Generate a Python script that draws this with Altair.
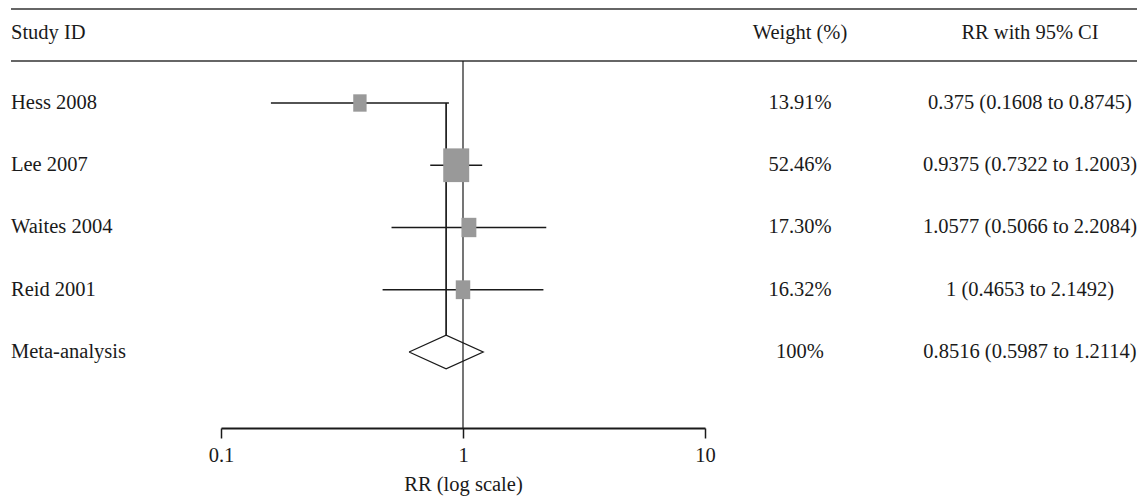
import altair as alt
import pandas as pd

# ---- data ----
studies = ["Hess 2008", "Lee 2007", "Waites 2004", "Reid 2001"]
rr = [0.375, 0.9375, 1.0577, 1.0]
lo = [0.1608, 0.7322, 0.5066, 0.4653]
hi = [0.8745, 1.2003, 2.2084, 2.1492]
weights = [13.91, 52.46, 17.30, 16.32]
weight_labels = ["13.91%", "52.46%", "17.30%", "16.32%"]
ci_labels = ["0.375 (0.1608 to 0.8745)", "0.9375 (0.7322 to 1.2003)",
             "1.0577 (0.5066 to 2.2084)", "1 (0.4653 to 2.1492)"]

meta_label = "Meta-analysis"
meta_rr = 0.8516
meta_lo = 0.5987
meta_hi = 1.2114
meta_weight_label = "100%"
meta_ci_label = "0.8516 (0.5987 to 1.2114)"

headers = ["Study ID", "Weight (%)", "RR with 95% CI"]
x_ticks = [0.1, 1, 10]

# ---- tables ----
rows = list(range(1, len(studies) + 1))
meta_row = len(studies) + 1
df = pd.DataFrame({"study": studies, "rr": rr, "lo": lo, "hi": hi,
                   "weight": weights, "row": rows})
labels_df = pd.DataFrame({
    "study": studies + [meta_label],
    "wlab": weight_labels + [meta_weight_label],
    "cilab": ci_labels + [meta_ci_label],
    "row": rows + [meta_row],
})
half = 0.27
diamond = pd.DataFrame({
    "x": [meta_lo, meta_rr, meta_hi, meta_rr, meta_lo],
    "row": [meta_row, meta_row - half, meta_row, meta_row + half, meta_row],
    "order": [0, 1, 2, 3, 4],
})
meta_line = pd.DataFrame({"x": [meta_rr], "y1": [1], "y2": [meta_row - half]})

FONT = "Liberation Serif, Times New Roman, serif"
FS = 20.5
INK = "#1a1a1a"
X_STUDY, X_W, X_CI = 3, 792, 1022

xs = alt.Scale(type="log", domain=[0.1, 10], range=[213, 697])
ys = alt.Scale(domain=[-0.526, 6.221], reverse=True)

x_axis = alt.Axis(values=x_ticks, format="~g", title="RR (log scale)",
                  grid=False, domainWidth=2, domainColor=INK, tickColor=INK,
                  tickWidth=1.5, tickSize=10, labelPadding=7, labelFlush=False,
                  labelFont=FONT, labelFontSize=FS, labelColor=INK,
                  titleFont=FONT, titleFontSize=FS, titleFontWeight="normal",
                  titleColor=INK, titlePadding=9)

base = alt.Chart(df)

ci = base.mark_rule(color=INK, strokeWidth=1.5).encode(
    x=alt.X("lo:Q", scale=xs, axis=x_axis),
    x2="hi:Q",
    y=alt.Y("row:Q", scale=ys, axis=None),
)

boxes = base.mark_point(
    shape="M-0.77,-1L0.77,-1L0.77,1L-0.77,1Z", filled=True, opacity=1,
    color="#999999", strokeWidth=0,
).encode(
    x=alt.X("rr:Q", scale=xs),
    y=alt.Y("row:Q", scale=ys),
    size=alt.Size("weight:Q", scale=alt.Scale(domain=[0, 60], range=[0, 1300]),
                  legend=None),
)

ref_line = alt.Chart(pd.DataFrame({"x": [1]})).mark_rule(
    color=INK, strokeWidth=1.2
).encode(x=alt.X("x:Q", scale=xs), y=alt.value(53), y2=alt.value(420))

meta_v = alt.Chart(meta_line).mark_rule(color=INK, strokeWidth=1.7).encode(
    x=alt.X("x:Q", scale=xs),
    y=alt.Y("y1:Q", scale=ys),
    y2="y2:Q",
)

dia = alt.Chart(diamond).mark_line(color=INK, strokeWidth=1.3).encode(
    x=alt.X("x:Q", scale=xs),
    y=alt.Y("row:Q", scale=ys),
    order="order:Q",
)

def col_text(field, xpos, align):
    return alt.Chart(labels_df).mark_text(
        align=align, baseline="middle", font=FONT, fontSize=FS, color=INK
    ).encode(x=alt.value(xpos), y=alt.Y("row:Q", scale=ys), text=f"{field}:N")

study_text = col_text("study", X_STUDY, "left")
w_text = col_text("wlab", X_W, "center")
ci_text = col_text("cilab", X_CI, "center")

def hdr(label, xpos, align):
    return alt.Chart(pd.DataFrame({"h": [label]})).mark_text(
        align=align, baseline="middle", font=FONT, fontSize=FS, color=INK
    ).encode(x=alt.value(xpos), y=alt.value(25), text="h:N")

hdr_study = hdr(headers[0], X_STUDY, "left")
hdr_w = hdr(headers[1], X_W, "center")
hdr_ci = hdr(headers[2], X_CI, "center")

rules_df = pd.DataFrame({"k": [0, 1]})
top_rule = alt.Chart(rules_df.iloc[[0]]).mark_rule(color="#333333", strokeWidth=1.6).encode(
    x=alt.value(3), x2=alt.value(1129), y=alt.value(1))
sec_rule = alt.Chart(rules_df.iloc[[1]]).mark_rule(color="#333333", strokeWidth=1.6).encode(
    x=alt.value(3), x2=alt.value(1129), y=alt.value(53))

chart = alt.layer(
    top_rule, sec_rule, hdr_study, hdr_w, hdr_ci,
    ci, ref_line, meta_v, dia, boxes,
    study_text, w_text, ci_text,
).properties(
    width=1129, height=420,
    autosize=alt.AutoSizeParams(type="none"),
    padding={"left": 0, "top": 0, "right": 0, "bottom": 68},
).configure_view(stroke=None)

chart.save("out.html", embed_options={"renderer": "svg", "actions": False})
